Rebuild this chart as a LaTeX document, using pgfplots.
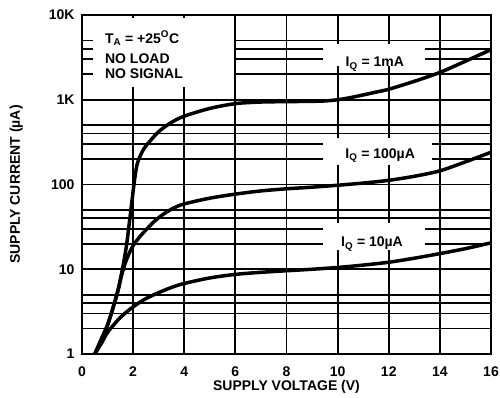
\documentclass[border=0pt]{standalone}
\usepackage{pgfplots}
\pgfplotsset{compat=1.18}
\usepackage{fontspec}
\setmainfont{Liberation Sans}
\newcommand\F{\fontsize{14}{16}\selectfont\bfseries}
\begin{document}
\begin{tikzpicture}
\path[use as bounding box] (-82pt,-43pt) rectangle (418pt,354pt);
\begin{axis}[at={(0,0)}, anchor=south west, scale only axis, width=409pt, height=339pt,
 xmin=0, xmax=16, ymode=log, ymin=1, ymax=10000,
 xtick={0,2,4,6,8,10,12,14,16}, xticklabels={0,2,4,6,8,10,12,14,16},
 ytick={1,10,100,1000,10000}, yticklabels={1,10,100,1K,10K},
 minor ytick={2,3,4,5,20,30,40,50,200,300,400,500,2000,3000,4000,5000},
 minor xtick={},
 grid=both,
 major grid style={black, line width=1.8pt},
 minor grid style={black, line width=1.8pt},
 major tick length=0pt, minor tick length=0pt,
 axis line style={line width=2pt},
 tick label style={font=\F},
 xticklabel style={anchor=base, yshift=-22pt},
 yticklabel style={anchor=east, xshift=-4pt},
 xlabel={SUPPLY VOLTAGE (V)}, ylabel={SUPPLY CURRENT (µA)},
 label style={font=\F},
 xlabel style={at={(axis description cs:0.5,0)}, anchor=base, yshift=-36pt},
 ylabel style={at={(axis description cs:-0.161,0.5)}, anchor=center},
]
\fill[white] (axis cs:0.43,1400) rectangle (axis cs:5.95,9300);
\fill[white] (axis cs:9.43,2500) rectangle (axis cs:13.4,4600);
\fill[white] (axis cs:9.43,170) rectangle (axis cs:13.7,350);
\fill[white] (axis cs:9.43,17) rectangle (axis cs:13.4,35);

\addplot[black, line width=3.5pt, smooth] coordinates {
(0.5,1) (0.8,1.6) (1.0,2.2) (1.2,3.4) (1.4,5.5) (1.55,9) (1.65,13) (1.75,20) (1.85,35) (1.95,62) (2.05,110) (2.15,170) (2.3,225) (2.5,285) (3.0,420) (3.5,540) (4.0,640) (5.0,790) (6.0,900) (7.0,940) (8.0,950) (9.0,958) (9.5,968) (10.0,1000) (10.5,1060) (11.0,1140) (11.5,1230) (12.0,1330) (13.0,1650) (14.0,2100) (15.0,2850) (16.0,3900)};
\addplot[black, line width=3.5pt, smooth] coordinates {
(0.5,1) (0.8,1.6) (1.0,2.2) (1.2,3.4) (1.4,5.5) (1.55,8.5) (1.7,12) (1.85,15.5) (2.0,19) (2.3,25) (2.8,36) (3.2,45) (3.6,53) (4.0,59) (5.0,69) (6.0,77) (7.0,84) (8.0,89) (9.0,93) (10.0,98) (11.0,104) (12.0,112) (13.0,125) (14.0,145) (15.0,185) (16.0,240)};
\addplot[black, line width=3.5pt, smooth] coordinates {
(0.5,1) (0.8,1.4) (1.0,1.8) (1.5,2.7) (2.0,3.6) (2.5,4.5) (3.0,5.3) (3.5,6.1) (4.0,6.8) (5.0,7.9) (6.0,8.7) (7.0,9.2) (8.0,9.6) (9.0,10.0) (10.0,10.5) (11.0,11.2) (12.0,12.1) (13.0,13.5) (14.0,15.3) (15.0,17.5) (16.0,20.5)};

\node[anchor=base west, font=\F, inner sep=0pt] at (rel axis cs:0.056,0.917) {T\textsubscript{A} = +25\textsuperscript{O}C};
\node[anchor=base west, font=\F, inner sep=0pt] at (rel axis cs:0.056,0.858) {NO LOAD};
\node[anchor=base west, font=\F, inner sep=0pt] at (rel axis cs:0.056,0.814) {NO SIGNAL};
\node[anchor=base, font=\F, inner sep=0pt] at (rel axis cs:0.716,0.847) {I\textsubscript{Q} = 1mA};
\node[anchor=base, font=\F, inner sep=0pt] at (rel axis cs:0.729,0.577) {I\textsubscript{Q} = 100µA};
\node[anchor=base, font=\F, inner sep=0pt] at (rel axis cs:0.709,0.316) {I\textsubscript{Q} = 10µA};
\end{axis}
\end{tikzpicture}
\end{document}
